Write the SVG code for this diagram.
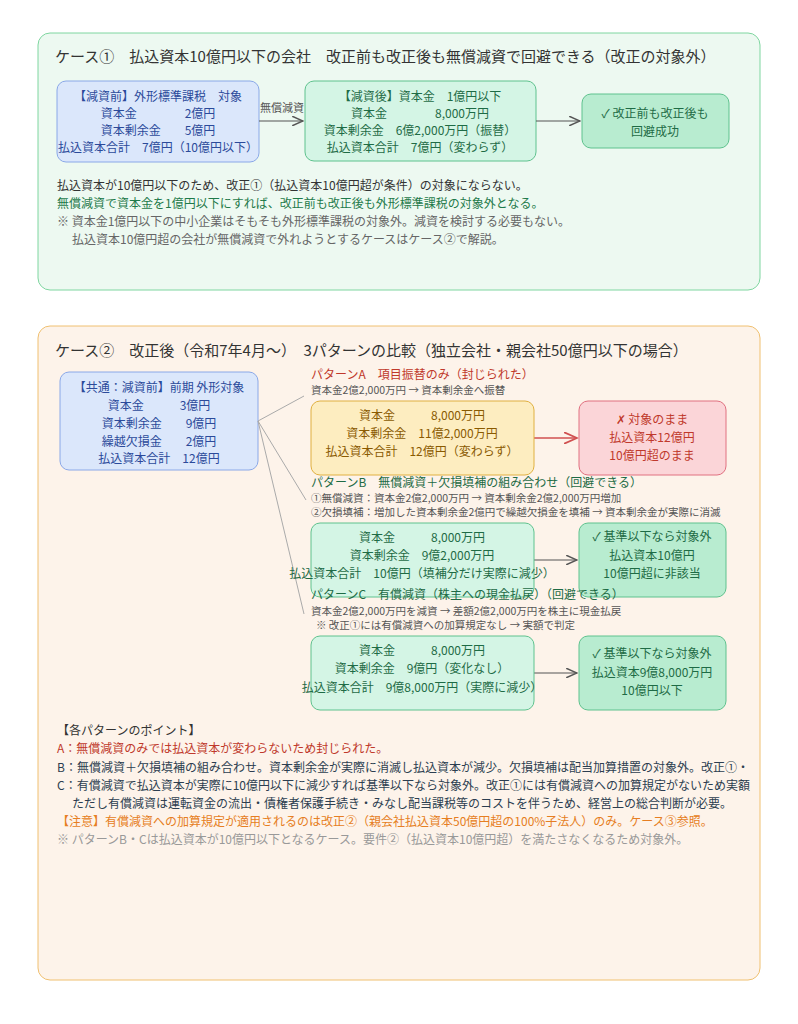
<svg xmlns="http://www.w3.org/2000/svg" width="798" height="1024" viewBox="0 0 798 1024">
<style>
text{font-family:"Noto Sans CJK JP","Noto Sans CJK SC",sans-serif;font-size:12px;fill:#333}
.t{font-size:15px;fill:#333}
.c{text-anchor:middle}
.bl{fill:#2b4a9a}
.gr{fill:#1e6b45}
.s{font-size:11px;fill:#555}
.red{fill:#c0392b}
.org{fill:#e67e22}
.gry{fill:#999}
.line{stroke:#555;stroke-width:1.2;fill:none}
</style>
<defs>
<marker id="ar" markerWidth="10" markerHeight="8" refX="9" refY="4" orient="auto"><path d="M0,0 L9,4 L0,8" fill="none" stroke="#555" stroke-width="1.2"/></marker>
<marker id="arr" markerWidth="10" markerHeight="8" refX="9" refY="4" orient="auto"><path d="M0,0 L9,4 L0,8" fill="none" stroke="#d05050" stroke-width="1.2"/></marker>
</defs>
<rect width="798" height="1024" fill="#fff"/>
<g id="case1">
<rect x="38" y="33" width="722" height="257" rx="12" fill="#edf9f1" stroke="#7fd6a0"/>
<text class="t" x="55" y="62">ケース①　払込資本10億円以下の会社　改正前も改正後も無償減資で回避できる（改正の対象外）</text>
</g>
<g id="n1">
<rect x="57" y="81" width="202" height="81" rx="9" fill="#dbe7fb" stroke="#8aa8e8"/>
<text class="c bl" x="158" y="101">【減資前】外形標準課税　対象</text>
<text class="c bl" x="158" y="118">資本金　　　　2億円</text>
<text class="c bl" x="158" y="135">資本剰余金　　5億円</text>
<text class="c bl" x="158" y="152">払込資本合計　7億円（10億円以下）</text>
</g>
<g id="n2">
<rect x="305" y="81" width="231" height="80" rx="9" fill="#d4f5e5" stroke="#5fc28e"/>
<text class="c gr" x="420" y="101">【減資後】資本金　1億円以下</text>
<text class="c gr" x="420" y="118">資本金　　　　8,000万円</text>
<text class="c gr" x="420" y="135">資本剰余金　6億2,000万円（振替）</text>
<text class="c gr" x="420" y="152">払込資本合計　7億円（変わらず）</text>
</g>
<g id="n3">
<rect x="582" y="94" width="147" height="54" rx="9" fill="#b8ecd0" stroke="#5fc28e"/>
<text class="c gr" x="655" y="118">✓ 改正前も改正後も</text>
<text class="c gr" x="655" y="136">回避成功</text>
</g>
<g id="notes1">
<text x="57" y="190">払込資本が10億円以下のため、改正①（払込資本10億円超が条件）の対象にならない。</text>
<text x="57" y="208" style="fill:#1e7a4a">無償減資で資本金を1億円以下にすれば、改正前も改正後も外形標準課税の対象外となる。</text>
<text x="57" y="226" style="fill:#666">※ 資本金1億円以下の中小企業はそもそも外形標準課税の対象外。減資を検討する必要もない。</text>
<text x="72" y="244" style="fill:#666">払込資本10億円超の会社が無償減資で外れようとするケースはケース②で解説。</text>
</g>
<g id="case2">
<rect x="38" y="326" width="722" height="654" rx="12" fill="#fdf3ea" stroke="#f0c070"/>
<text class="t" x="55" y="356">ケース②　改正後（令和7年4月～）　3パターンの比較（独立会社・親会社50億円以下の場合）</text>
</g>
<g id="common">
<rect x="60" y="372" width="198" height="98" rx="9" fill="#dbe7fb" stroke="#8aa8e8"/>
<text class="c bl" x="159" y="392">【共通：減資前】前期 外形対象</text>
<text class="c bl" x="159" y="410">資本金　　　3億円</text>
<text class="c bl" x="159" y="428">資本剰余金　　9億円</text>
<text class="c bl" x="159" y="446">繰越欠損金　　2億円</text>
<text class="c bl" x="159" y="463">払込資本合計　12億円</text>
</g>
<g id="connectors">
<line x1="259" y1="121" x2="303" y2="121" class="line" marker-end="url(#ar)"/>
<line x1="536" y1="121" x2="580" y2="121" class="line" marker-end="url(#ar)"/>
<line x1="258" y1="421" x2="304" y2="396" stroke="#aaa" stroke-width="1"/>
<line x1="258" y1="421" x2="306" y2="500" stroke="#aaa" stroke-width="1"/>
<line x1="258" y1="421" x2="304" y2="614" stroke="#aaa" stroke-width="1"/>
<line x1="534" y1="438" x2="577" y2="438" stroke="#d05050" stroke-width="1.5" marker-end="url(#arr)"/>
<line x1="534" y1="560" x2="577" y2="560" class="line" marker-end="url(#ar)"/>
<line x1="534" y1="673" x2="577" y2="673" class="line" marker-end="url(#ar)"/>
<text x="260" y="112" style="fill:#555;font-size:11px">無償減資</text>
</g>
<g id="patA">
<text x="311" y="379" class="red">パターンA　項目振替のみ（封じられた）</text>
<text x="311" y="394" class="s" style="font-size:10.5px">資本金2億2,000万円 → 資本剰余金へ振替</text>
<rect x="311" y="401" width="223" height="74" rx="9" fill="#fdedc0" stroke="#e0b040"/>
<text class="c" x="422" y="420" style="fill:#8a5a00">資本金　　　8,000万円</text>
<text class="c" x="422" y="438" style="fill:#8a5a00">資本剰余金　11億2,000万円</text>
<text class="c" x="422" y="456" style="fill:#8a5a00">払込資本合計　12億円（変わらず）</text>
</g>
<g id="resA">
<rect x="579" y="401" width="147" height="74" rx="9" fill="#fbd5d8" stroke="#e07080"/>
<text class="c red" x="652" y="424">✗ 対象のまま</text>
<text class="c red" x="652" y="442">払込資本12億円</text>
<text class="c red" x="652" y="460">10億円超のまま</text>
</g>
<g id="patB">
<text x="311" y="487" class="gr">パターンB　無償減資＋欠損填補の組み合わせ（回避できる）</text>
<text x="311" y="502" class="s" style="font-size:10.5px">①無償減資：資本金2億2,000万円 → 資本剰余金2億2,000万円増加</text>
<text x="311" y="516" class="s" style="font-size:10.5px">②欠損填補：増加した資本剰余金2億円で繰越欠損金を填補 → 資本剰余金が実際に消滅</text>
<rect x="311" y="523" width="223" height="74" rx="9" fill="#d4f5e5" stroke="#5fc28e"/>
<text class="c gr" x="422" y="542">資本金　　　8,000万円</text>
<text class="c gr" x="422" y="560">資本剰余金　9億2,000万円</text>
<text class="c gr" x="422" y="578">払込資本合計　10億円（填補分だけ実際に減少）</text>
</g>
<g id="resB">
<rect x="579" y="523" width="147" height="74" rx="9" fill="#b8ecd0" stroke="#5fc28e"/>
<text class="c gr" x="652" y="541">✓ 基準以下なら対象外</text>
<text class="c gr" x="652" y="560">払込資本10億円</text>
<text class="c gr" x="652" y="578">10億円超に非該当</text>
</g>
<g id="patC">
<text x="311" y="599" class="gr">パターンC　有償減資（株主への現金払戻）（回避できる）</text>
<text x="311" y="615" class="s" style="font-size:10.5px">資本金2億2,000万円を減資 → 差額2億2,000万円を株主に現金払戻</text>
<text x="316" y="629" class="s" style="font-size:10.5px">※ 改正①には有償減資への加算規定なし → 実額で判定</text>
<rect x="311" y="636" width="223" height="74" rx="9" fill="#d4f5e5" stroke="#5fc28e"/>
<text class="c gr" x="422" y="655">資本金　　　8,000万円</text>
<text class="c gr" x="422" y="673">資本剰余金　9億円（変化なし）</text>
<text class="c gr" x="422" y="692">払込資本合計　9億8,000万円（実際に減少）</text>
</g>
<g id="resC">
<rect x="579" y="636" width="147" height="74" rx="9" fill="#b8ecd0" stroke="#5fc28e"/>
<text class="c gr" x="652" y="658">✓ 基準以下なら対象外</text>
<text class="c gr" x="652" y="677">払込資本9億8,000万円</text>
<text class="c gr" x="652" y="695">10億円以下</text>
</g>
<g id="points">
<text x="57" y="735">【各パターンのポイント】</text>
<text x="57" y="753" class="red">A：無償減資のみでは払込資本が変わらないため封じられた。</text>
<text x="57" y="772" style="fill:#2c3e50">B：無償減資＋欠損填補の組み合わせ。資本剰余金が実際に消滅し払込資本が減少。欠損填補は配当加算措置の対象外。改正①・</text>
<text x="57" y="790" style="fill:#2c3e50">C：有償減資で払込資本が実際に10億円以下に減少すれば基準以下なら対象外。改正①には有償減資への加算規定がないため実額</text>
<text x="72" y="808" style="fill:#2c3e50">ただし有償減資は運転資金の流出・債権者保護手続き・みなし配当課税等のコストを伴うため、経営上の総合判断が必要。</text>
<text x="57" y="826" class="org">【注意】有償減資への加算規定が適用されるのは改正②（親会社払込資本50億円超の100%子法人）のみ。ケース③参照。</text>
<text x="57" y="844" class="gry">※ パターンB・Cは払込資本が10億円以下となるケース。要件②（払込資本10億円超）を満たさなくなるため対象外。</text>
</g>
</svg>
